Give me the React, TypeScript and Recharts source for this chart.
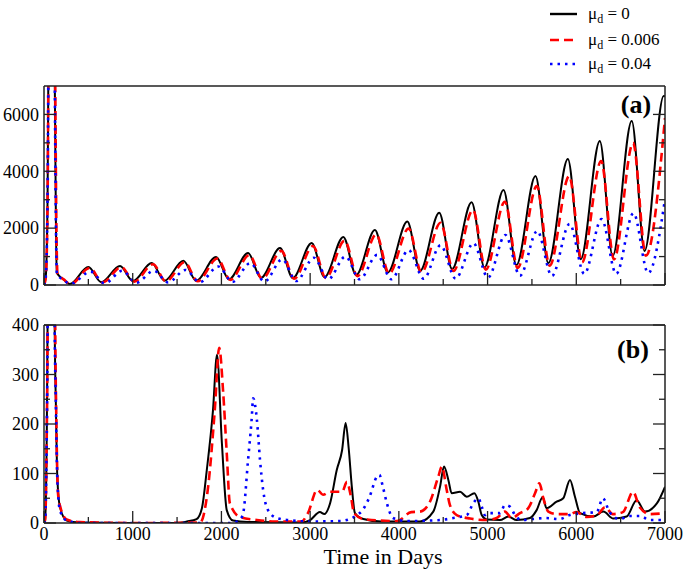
import React from 'react';
import { LineChart, Line, XAxis, YAxis } from 'recharts';

const W = 685;
const FONT = '"Liberation Serif", "Times New Roman", serif';

// axis ticks
const xMajor = [0, 1000, 2000, 3000, 4000, 5000, 6000, 7000];
const xAll = [0, 500, 1000, 1500, 2000, 2500, 3000, 3500, 4000, 4500, 5000, 5500, 6000, 6500, 7000];
const aYMajor = [0, 2000, 4000, 6000];
const aYAll = [0, 1000, 2000, 3000, 4000, 5000, 6000];
const bYMajor = [0, 100, 200, 300, 400];
const bYAll = [0, 50, 100, 150, 200, 250, 300, 350, 400];

const legendLabels = ['0', '0.006', '0.04'];

// ---------- panel (a) ----------
const aBlackT = [0, 20, 40, 50, 75, 100, 122, 135, 145, 218, 290, 500, 645, 857, 1002, 1214, 1359, 1571, 1716, 1940, 2085, 2300, 2445, 2660, 2805, 3017, 3162, 3374, 3519, 3730, 3875, 4095, 4240, 4455, 4600, 4820, 4965, 5180, 5325, 5540, 5685, 5905, 6050, 6265, 6410, 6625, 6770, 6985, 7000];
const aBlackV = [0, 300, 3000, 8000, 20000, 20000, 7000, 2000, 430, 200, 35, 630, 100, 670, 140, 770, 150, 850, 150, 985, 200, 1126, 250, 1300, 245, 1477, 280, 1690, 350, 1935, 440, 2230, 500, 2545, 560, 2910, 620, 3340, 700, 3834, 770, 4430, 910, 5065, 1020, 5770, 1200, 6650, 6640];

const aRedT = [0, 20, 40, 50, 75, 105, 127, 140, 152, 225, 300, 515, 660, 872, 1017, 1229, 1374, 1586, 1731, 1955, 2100, 2315, 2460, 2675, 2820, 3032, 3177, 3389, 3534, 3745, 3890, 4110, 4255, 4470, 4615, 4835, 4980, 5195, 5340, 5555, 5700, 5920, 6065, 6280, 6425, 6640, 6785, 7000];
const aRedV = [0, 250, 2800, 7800, 20000, 20000, 7000, 2000, 420, 190, 30, 600, 90, 630, 120, 730, 130, 800, 130, 930, 180, 1050, 220, 1200, 220, 1370, 250, 1560, 310, 1780, 400, 1990, 440, 2190, 490, 2640, 540, 2930, 600, 3480, 680, 3830, 800, 4360, 900, 5000, 1030, 5870];

const aBlueT = [0, 20, 40, 50, 75, 100, 122, 135, 145, 218, 300, 525, 685, 882, 1042, 1239, 1399, 1596, 1756, 1965, 2125, 2325, 2485, 2685, 2845, 3042, 3202, 3399, 3559, 3755, 3915, 4110, 4280, 4470, 4640, 4840, 5005, 5200, 5365, 5560, 5725, 5925, 6090, 6285, 6450, 6645, 6810, 7000];
const aBlueV = [0, 300, 3000, 8000, 20000, 20000, 7000, 2000, 400, 180, 40, 470, 60, 500, 80, 500, 90, 530, 100, 650, 110, 770, 120, 900, 140, 960, 200, 1000, 200, 1060, 200, 1230, 220, 1400, 225, 1470, 260, 1760, 330, 1900, 320, 2150, 390, 2320, 390, 2530, 420, 3020];

// ---------- panel (b) ----------
const bBlackT = [0, 12, 30, 42, 70, 105, 118, 135, 150, 180, 256, 400, 1000, 1500, 1610, 1720, 1780, 1835, 1905, 1950, 2005, 2060, 2130, 2300, 2900, 3000, 3110, 3160, 3225, 3300, 3360, 3400, 3435, 3470, 3505, 3600, 3800, 4238, 4388, 4464, 4509, 4558, 4596, 4690, 4765, 4851, 4896, 4934, 4990, 5140, 5234, 5328, 5478, 5553, 5621, 5665, 5778, 5853, 5929, 5985, 6042, 6192, 6305, 6417, 6568, 6680, 6775, 6910, 7000];
const bBlackV = [0, 6, 160, 450, 3000, 3000, 450, 228, 93, 32, 5, 1, 0, 0, 3, 8, 30, 107, 228, 340, 162, 26, 5, 2, 1, 6, 22, 18, 40, 107, 147, 202, 150, 73, 20, 8, 3, 3, 23, 73, 114, 87, 60, 63, 53, 60, 43, 16, 7, 6, 13, 6, 10, 26, 52, 30, 43, 50, 87, 53, 20, 13, 23, 9, 13, 46, 23, 40, 73];

const bRedT = [0, 12, 30, 42, 70, 110, 125, 140, 158, 180, 256, 400, 1000, 1760, 1850, 1925, 1975, 2020, 2060, 2095, 2210, 2400, 2600, 2900, 2975, 3080, 3145, 3225, 3360, 3415, 3460, 3495, 3600, 3980, 4140, 4238, 4351, 4445, 4485, 4539, 4576, 4652, 4802, 4990, 5102, 5196, 5271, 5365, 5459, 5535, 5584, 5629, 5685, 5780, 5925, 6000, 6120, 6235, 6325, 6410, 6525, 6640, 6715, 6830, 7000];
const bRedV = [0, 6, 160, 450, 3000, 3000, 450, 200, 60, 35, 7, 2, 0, 1, 73, 228, 354, 263, 141, 40, 12, 6, 3, 3, 20, 67, 57, 63, 63, 83, 53, 20, 8, 4, 22, 23, 43, 94, 114, 67, 36, 16, 9, 6, 10, 23, 10, 20, 30, 60, 80, 50, 23, 18, 18, 22, 12, 16, 32, 18, 22, 63, 32, 18, 20];

const bBlueT = [0, 12, 30, 42, 70, 105, 118, 135, 150, 180, 256, 400, 2100, 2200, 2245, 2300, 2340, 2358, 2400, 2435, 2470, 2525, 2625, 2800, 3000, 3340, 3560, 3670, 3750, 3780, 3820, 3865, 3935, 4100, 4464, 4614, 4765, 4839, 4896, 4934, 4971, 5008, 5140, 5196, 5252, 5309, 5384, 5510, 5650, 5810, 5925, 6075, 6230, 6300, 6375, 6490, 6600, 6720, 6830, 7000];
const bBlueV = [0, 6, 160, 450, 3000, 3000, 450, 228, 90, 25, 5, 0, 0, 5, 20, 127, 208, 252, 208, 127, 67, 26, 10, 5, 3, 4, 20, 53, 93, 97, 73, 40, 10, 4, 6, 10, 16, 40, 50, 33, 16, 20, 20, 36, 33, 16, 6, 8, 10, 8, 16, 20, 22, 50, 22, 8, 14, 14, 6, 6];

const zip = (ts: number[], vs: number[]) => ts.map((t, i) => ({ t, v: vs[i] }));

const STYLES = [
  { stroke: '#000000', width: 2, dash: undefined as string | undefined },
  { stroke: '#ff0000', width: 2.6, dash: '9 5' },
  { stroke: '#0000ff', width: 2.6, dash: '2.5 5' },
];

const seriesA = [zip(aBlackT, aBlackV), zip(aRedT, aRedV), zip(aBlueT, aBlueV)];
const seriesB = [zip(bBlackT, bBlackV), zip(bRedT, bRedV), zip(bBlueT, bBlueV)];

const axisLine = { stroke: '#222', strokeWidth: 1.5 };
const TICK_COLOR = '#222';

type Side = 'bottom' | 'top' | 'left' | 'right';

function makeTick(side: Side, majors: number[], showLabel: boolean) {
  return (p: any) => {
    const v = p.payload && p.payload.value;
    const major = majors.indexOf(v) >= 0;
    const len = major ? 12 : 6;
    const x = p.x;
    const y = p.y;
    let ln: any;
    if (side === 'bottom') ln = { x1: x, x2: x, y1: y, y2: y - len };
    else if (side === 'top') ln = { x1: x, x2: x, y1: y, y2: y + len };
    else if (side === 'left') ln = { x1: x, x2: x + len, y1: y, y2: y };
    else ln = { x1: x, x2: x - len, y1: y, y2: y };
    let label: any = null;
    if (showLabel && major) {
      if (side === 'bottom') {
        label = (
          <text x={x} y={y + 3} dy="0.75em" textAnchor="middle" fontFamily={FONT} fontSize={18} fill="#000">
            {String(v)}
          </text>
        );
      } else if (side === 'left') {
        label = (
          <text x={x - 5} y={y} dy="0.35em" textAnchor="end" fontFamily={FONT} fontSize={18} fill="#000">
            {String(v)}
          </text>
        );
      }
    }
    return (
      <g>
        <line {...ln} stroke={TICK_COLOR} strokeWidth={1.3} />
        {label}
      </g>
    );
  };
}

function Panel(props: {
  top: number; height: number; margin: any; yMax: number;
  yMajor: number[]; yAll: number[]; series: any[]; xLabels: boolean;
}) {
  const { top, height, margin, yMax, yMajor, yAll, series, xLabels } = props;
  const xd: [number, number] = [0, 7000];
  const yd: [number, number] = [0, yMax];
  return (
    <div style={{ position: 'absolute', left: 0, top, width: W, height }}>
      <LineChart width={W} height={height} margin={margin}>
        <XAxis xAxisId="xb" type="number" dataKey="t" domain={xd} allowDataOverflow orientation="bottom"
          ticks={xAll} interval={0} height={1} tickSize={0} tickMargin={0}
          tick={makeTick('bottom', xMajor, xLabels)} axisLine={axisLine} tickLine={false} />
        <XAxis xAxisId="xt" type="number" domain={xd} allowDataOverflow orientation="top"
          ticks={xAll} interval={0} height={1} tickSize={0} tickMargin={0}
          tick={makeTick('top', xMajor, false)} axisLine={axisLine} tickLine={false} />
        <YAxis yAxisId="yl" type="number" domain={yd} allowDataOverflow orientation="left"
          ticks={yAll} interval={0} width={1} tickSize={0} tickMargin={0}
          tick={makeTick('left', yMajor, true)} axisLine={axisLine} tickLine={false} />
        <YAxis yAxisId="yr" type="number" domain={yd} allowDataOverflow orientation="right"
          ticks={yAll} interval={0} width={1} tickSize={0} tickMargin={0}
          tick={makeTick('right', yMajor, false)} axisLine={axisLine} tickLine={false} />
        {series.map((data, i) => (
          <Line key={i} xAxisId="xb" yAxisId="yl" data={data} dataKey="v" type="monotone"
            stroke={STYLES[i].stroke} strokeWidth={STYLES[i].width} strokeDasharray={STYLES[i].dash}
            dot={false} activeDot={false} isAnimationActive={false} />
        ))}
      </LineChart>
    </div>
  );
}

function Overlay() {
  const rows = [14, 40, 64];
  return (
    <svg width={W} height={570} style={{ position: 'absolute', left: 0, top: 0, pointerEvents: 'none' }}>
      {rows.map((y, i) => (
        <g key={i}>
          <line x1={550} x2={577} y1={y} y2={y} stroke={STYLES[i].stroke} strokeWidth={2.4}
            strokeDasharray={STYLES[i].dash} />
          <text x={588} y={y + 5} fontFamily={FONT} fontSize={17} fill="#000">
            <tspan>μ</tspan>
            <tspan fontSize={12} dy={4}>d</tspan>
            <tspan dy={-4}>{' = ' + legendLabels[i]}</tspan>
          </text>
        </g>
      ))}
      <text x={636} y={113} textAnchor="middle" fontFamily={FONT} fontSize={26} fontWeight="bold" fill="#000">(a)</text>
      <text x={633} y={358} textAnchor="middle" fontFamily={FONT} fontSize={26} fontWeight="bold" fill="#000">(b)</text>
      <text x={383} y={564} textAnchor="middle" fontFamily={FONT} fontSize={22} fill="#000">Time in Days</text>
    </svg>
  );
}

export default function App() {
  return (
    <div style={{ position: 'absolute', left: 0, top: 0, width: W, height: 570, background: '#fff' }}>
      <Panel top={0} height={300} margin={{ top: 85, bottom: 14, left: 43, right: 19 }} yMax={7000}
        yMajor={aYMajor} yAll={aYAll} series={seriesA} xLabels={false} />
      <Panel top={300} height={270} margin={{ top: 24, bottom: 46, left: 43, right: 19 }} yMax={400}
        yMajor={bYMajor} yAll={bYAll} series={seriesB} xLabels={true} />
      <Overlay />
    </div>
  );
}
